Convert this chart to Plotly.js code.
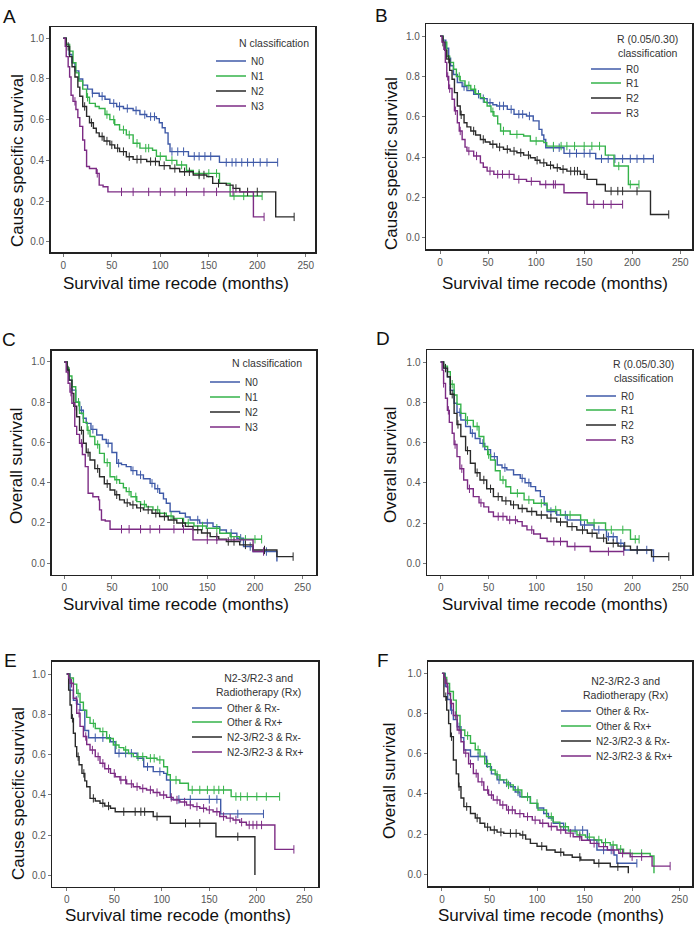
<!DOCTYPE html>
<html><head><meta charset="utf-8">
<script src="https://cdn.plot.ly/plotly-3.0.1.min.js"></script>
<style>html,body{margin:0;padding:0;background:#fff}#chart{width:697px;height:928px}</style>
</head><body><div id="chart"></div>
<script>
// ---------- DATA (time in months, survival proportion) ----------
// Panel A: cause specific survival by N classification
const A_N0_t = [0,3,6,9,12,16,20,25,30,37,43,48,55,62,72,79,86,96,99,102,105,108,110,129,161,221];
const A_N0_s = [1,0.97,0.92,0.88,0.84,0.80,0.77,0.75,0.73,0.715,0.70,0.68,0.665,0.655,0.645,0.625,0.615,0.605,0.585,0.56,0.535,0.48,0.443,0.42,0.39,0.39];
const A_N0_c = [30,40,52,58,66,75,84,90,94,112,118,124,135,140,146,152,168,174,178,184,190,196,203,210,221];
const A_N1_t = [0,3,6.5,10,13,16,20,24,27,33,37,43,48,53,58,65,72,79,92,96,106,117,127,134,161,172,205];
const A_N1_s = [1,0.97,0.937,0.88,0.83,0.79,0.75,0.71,0.68,0.665,0.655,0.625,0.6,0.575,0.55,0.525,0.484,0.46,0.45,0.42,0.40,0.377,0.35,0.336,0.287,0.225,0.225];
const A_N1_c = [25,45,52,62,68,76,85,88,100,112,122,140,150,158,176,186,196,205];
const A_N2_t = [0,3,6.5,9,12,15,17,20,24,27,31,34,37,42,48,53,58,65,72,86,99,110,120,134,148,154,168,175,182,219,238];
const A_N2_s = [1,0.96,0.91,0.86,0.81,0.76,0.715,0.665,0.616,0.585,0.558,0.535,0.517,0.495,0.476,0.46,0.443,0.418,0.405,0.394,0.374,0.36,0.344,0.328,0.32,0.287,0.278,0.262,0.245,0.122,0.122];
const A_N2_c = [5,22,29,40,45,50,56,62,68,76,80,90,95,104,115,125,130,140,145,160,178,190,200,238];
const A_N3_t = [0,2,3,5,6.5,8,10,13,15,17,20,22,24,27,34,37,41,46,196,207];
const A_N3_s = [1,0.96,0.91,0.86,0.81,0.72,0.69,0.65,0.61,0.567,0.50,0.45,0.37,0.36,0.336,0.278,0.27,0.245,0.122,0.122];
const A_N3_c = [12,35,60,72,88,100,115,127,145,158,175,207];

// Panel B: cause specific survival by R (0.05/0.30) classification
const B_R0_t = [0,3,6,9,11,14,18,23,28,35,42,49,55,59,70,77,90,97,103,106,108,110,129,162,222];
const B_R0_s = [1,0.98,0.94,0.89,0.853,0.81,0.77,0.75,0.73,0.712,0.69,0.67,0.66,0.654,0.637,0.613,0.604,0.58,0.538,0.51,0.488,0.447,0.419,0.392,0.392];
const B_R0_c = [25,40,45,52,62,66,74,82,86,93,118,124,135,142,150,156,168,175,182,190,198,205,212,222];
const B_R1_t = [0,3,7,10,14,17,21,26,32,37,42,46,49,53,56,60,63,73,87,94,108,111,172,181,196,207];
const B_R1_s = [1,0.97,0.9,0.87,0.836,0.8,0.778,0.755,0.737,0.715,0.695,0.672,0.654,0.625,0.604,0.565,0.53,0.513,0.505,0.48,0.472,0.455,0.41,0.356,0.265,0.265];
const B_R1_c = [20,30,36,55,66,80,100,118,126,132,140,150,158,166,186,198,207];
const B_R2_t = [0,3,5,7,10,12.5,15,18,21,25,28,32,37,42,47,52,59,66,73,80,87,94,99,104,111,118,125,132,146,153,163,172,219,238];
const B_R2_s = [1,0.97,0.93,0.886,0.83,0.786,0.72,0.654,0.61,0.571,0.55,0.53,0.51,0.488,0.475,0.464,0.45,0.439,0.43,0.422,0.41,0.397,0.385,0.372,0.36,0.348,0.34,0.331,0.315,0.29,0.265,0.232,0.116,0.116];
const B_R2_c = [3,9,22,35,45,55,62,70,77,84,92,101,108,115,122,128,136,140,143,150,178,185,190,205,238];
const B_R3_t = [0,2,4,5.5,7,9,12.5,15,18,20,23,26,28,35,42,45,49,56,77,90,104,129,153,190];
const B_R3_s = [1,0.97,0.935,0.87,0.8,0.74,0.687,0.63,0.571,0.53,0.488,0.45,0.43,0.406,0.372,0.35,0.331,0.315,0.29,0.28,0.265,0.224,0.166,0.166];
const B_R3_c = [8,10,16,21,30,38,52,60,65,72,82,95,110,118,120,160,170,178,190];

// Panel C: overall survival by N classification
const C_N0_t = [0,3,5,8,12,16,20,23,28,34,40,44,50,55,60,65,70,76,83,90,95,100,104,107,111,121,127,132,142,156,163,170,181,188,198,223];
const C_N0_s = [1,0.96,0.91,0.86,0.8,0.76,0.72,0.695,0.665,0.637,0.615,0.596,0.55,0.497,0.49,0.48,0.46,0.439,0.42,0.397,0.37,0.348,0.32,0.298,0.257,0.248,0.23,0.215,0.2,0.182,0.165,0.149,0.124,0.083,0.058,0.008];
const C_N0_c = [18,30,46,57,72,80,92,98,140,150,175,185,195,212];
const C_N1_t = [0,3,5,8,12,16,20,24,27,32,37,42,48,53,58,62,65,70,76,80,86,93,100,107,114,125,136,149,163,174,184,207];
const C_N1_s = [1,0.97,0.93,0.877,0.8,0.745,0.7,0.66,0.63,0.59,0.546,0.5,0.43,0.415,0.397,0.375,0.356,0.33,0.306,0.292,0.28,0.265,0.248,0.235,0.223,0.2,0.185,0.174,0.149,0.132,0.119,0.119];
const C_N1_c = [15,25,35,45,55,68,75,84,98,112,130,145,160,175,190,200,207];
const C_N2_t = [0,3,5,8,10,13,16,20,23,27,32,37,42,48,53,58,63,69,76,83,92,100,109,118,127,135,144,153,162,170,184,198,223,240];
const C_N2_s = [1,0.96,0.91,0.844,0.78,0.728,0.66,0.596,0.55,0.513,0.47,0.43,0.395,0.364,0.34,0.315,0.3,0.29,0.275,0.265,0.248,0.232,0.215,0.2,0.183,0.166,0.15,0.132,0.12,0.108,0.091,0.066,0.033,0.033];
const C_N2_c = [4,11,18,25,35,45,55,66,72,80,88,96,105,115,124,140,150,160,172,178,190,210,240];
const C_N3_t = [0,2,4,6,8,11,13,16,19,22,25,30,36,37,39,43,48,135,198,209];
const C_N3_s = [1,0.95,0.894,0.85,0.795,0.68,0.64,0.596,0.54,0.48,0.348,0.33,0.315,0.265,0.215,0.21,0.169,0.116,0.058,0.058];
const C_N3_c = [7,18,60,68,80,90,100,115,125,150,160,209];

// Panel D: overall survival by R (0.05/0.30) classification
const D_R0_t = [0,3,7,10,14,17,21,26,31,36,41,46,52,59,64,69,76,83,88,94,99,104,108,111,121,132,146,160,173,184,191,222];
const D_R0_s = [1,0.97,0.927,0.86,0.795,0.75,0.712,0.68,0.646,0.62,0.596,0.565,0.53,0.488,0.475,0.464,0.44,0.422,0.4,0.381,0.36,0.331,0.29,0.257,0.24,0.215,0.19,0.166,0.132,0.099,0.066,0.008];
const D_R0_c = [10,20,33,44,56,67,85,92,115,130,150,165,175,180,188,205,215];
const D_R1_t = [0,3,7,10,14,17,21,26,34,40,45,49,52,57,62,68,73,87,97,111,125,146,153,172,198,207];
const D_R1_s = [1,0.98,0.952,0.89,0.836,0.79,0.745,0.71,0.68,0.63,0.58,0.54,0.513,0.46,0.414,0.38,0.348,0.315,0.298,0.265,0.24,0.215,0.2,0.166,0.119,0.119];
const D_R1_c = [12,28,38,50,65,80,92,105,120,135,160,178,190,203,207];
const D_R2_t = [0,3,7,10,14,17,21,26,31,36,41,48,55,64,73,81,90,100,111,121,132,142,153,163,173,185,198,220,238];
const D_R2_s = [1,0.97,0.927,0.84,0.745,0.69,0.63,0.56,0.497,0.45,0.414,0.37,0.331,0.31,0.29,0.272,0.257,0.24,0.224,0.205,0.182,0.165,0.149,0.125,0.099,0.085,0.066,0.033,0.033];
const D_R2_c = [5,12,18,28,38,45,52,60,68,76,85,95,105,115,125,137,148,158,170,180,192,205,238];
const D_R3_t = [0,1.5,3,5,7,9,12,14,17,20,24,28,34,40,45,50,55,69,80,85,90,97,104,111,132,156,191];
const D_R3_s = [1,0.96,0.894,0.82,0.76,0.7,0.646,0.59,0.53,0.47,0.414,0.37,0.331,0.3,0.28,0.255,0.232,0.215,0.207,0.185,0.166,0.145,0.124,0.108,0.083,0.058,0.058];
const D_R3_c = [3,8,15,22,30,42,60,65,72,78,95,118,125,140,175,191];

// Panel E: cause specific survival by N2-3/R2-3 and radiotherapy
const E_ORm_t = [0,3.5,7,11,14,19,23,46,51,74,81,91,102,105,109,110,162,207];
const E_ORm_s = [1,0.92,0.87,0.85,0.82,0.72,0.684,0.664,0.607,0.582,0.54,0.516,0.507,0.474,0.392,0.378,0.306,0.306];
const E_ORm_c = [10,30,38,55,62,68,85,98,118,130,150,158,180,207];
const E_ORp_t = [0,3,7,10.5,14,17.5,21,24.5,30,35,42,49,55,60,65,70,84,95,102,106,109,119,128,173,224];
const E_ORp_s = [1,0.98,0.95,0.904,0.86,0.82,0.785,0.755,0.73,0.714,0.68,0.648,0.635,0.623,0.605,0.59,0.582,0.574,0.54,0.5,0.474,0.458,0.425,0.392,0.392];
const E_ORp_c = [12,28,38,45,52,62,75,80,88,92,98,115,132,140,148,155,160,165,178,183,190,200,210,224];
const E_NRm_t = [0,2,3.5,5,7,9,10.5,13,16,19,21,24.5,30,35,40,46,51,91,109,157,198];
const E_NRm_s = [1,0.92,0.846,0.78,0.706,0.64,0.59,0.55,0.507,0.47,0.441,0.383,0.37,0.359,0.345,0.334,0.317,0.293,0.26,0.193,0.003];
const E_NRm_c = [6,12,18,28,38,44,60,72,78,82,95,125,140,180];
const E_NRp_t = [0,2,3.5,7,10.5,14,17.5,21,24.5,30,35,40,46,51,56,63,70,77,84,91,98,105,112,119,126,133,140,147,154,161,168,175,182,189,219,239];
const E_NRp_s = [1,0.98,0.954,0.88,0.805,0.74,0.69,0.65,0.623,0.59,0.557,0.53,0.507,0.49,0.474,0.455,0.441,0.432,0.425,0.412,0.4,0.388,0.375,0.365,0.35,0.342,0.334,0.326,0.317,0.293,0.285,0.276,0.265,0.251,0.13,0.13];
const E_NRp_c = [5,13,20,27,33,38,44,50,57,62,68,74,80,88,95,102,110,116,124,130,137,144,150,158,165,172,178,184,192,196,200,205,239];

// Panel F: overall survival by N2-3/R2-3 and radiotherapy
const F_ORm_t = [0,3.5,6,9,12,16,20,23,30,47,52,58,65,72,77,82,93,100,107,112,117,128,153,163,181,184,205];
const F_ORm_s = [1,0.934,0.87,0.817,0.77,0.734,0.68,0.619,0.586,0.536,0.5,0.47,0.455,0.436,0.41,0.386,0.353,0.33,0.303,0.28,0.254,0.22,0.171,0.121,0.096,0.055,0.055];
const F_ORm_c = [10,18,38,45,60,68,80,90,140,148,170,178,205];
const F_ORp_t = [0,3,5,8,12,15,19,24,30,35,40,45,51,56,61,68,75,84,93,101,110,117,124,133,142,151,160,168,177,184,191,219,223];
const F_ORp_s = [1,0.98,0.95,0.91,0.867,0.79,0.718,0.69,0.652,0.62,0.586,0.55,0.519,0.495,0.47,0.445,0.42,0.385,0.353,0.32,0.287,0.26,0.237,0.215,0.196,0.185,0.171,0.158,0.146,0.125,0.104,0.091,0.005];
const F_ORp_c = [8,15,27,38,48,58,70,80,90,100,115,130,145,155,165,172,180,188,198,210];
const F_NRm_t = [0,2,5,7,9,12,15,17.5,20,23,30,35,40,45,51,58,65,82,88,93,100,110,119,128,137,146,160,177,196];
const F_NRm_s = [1,0.884,0.817,0.75,0.685,0.569,0.5,0.436,0.38,0.337,0.303,0.28,0.254,0.235,0.221,0.21,0.204,0.196,0.175,0.154,0.14,0.121,0.11,0.096,0.085,0.071,0.055,0.038,0.005];
const F_NRm_c = [4,10,18,26,37,48,55,62,72,78,85,105,125,145,165,185];
const F_NRp_t = [0,2,3.5,6,9,12,16,20,23,28,33,38,44,49,54,61,68,77,86,95,103,112,121,130,138,147,156,165,174,186,198,221,240];
const F_NRp_s = [1,0.98,0.95,0.9,0.85,0.79,0.718,0.66,0.603,0.55,0.502,0.46,0.42,0.395,0.37,0.345,0.32,0.302,0.287,0.27,0.254,0.238,0.221,0.205,0.187,0.17,0.154,0.138,0.121,0.105,0.088,0.041,0.041];
const F_NRp_c = [5,10,14,18,25,30,36,42,48,52,58,64,70,74,82,90,98,106,115,125,135,145,160,170,180,190,200,210,240];

// Labels
const N_NAMES = ['N0','N1','N2','N3'];
const R_NAMES = ['R0','R1','R2','R3'];
const G_NAMES = ['Other &amp; Rx-','Other &amp; Rx+','N2-3/R2-3 &amp; Rx-','N2-3/R2-3 &amp; Rx+'];
const PANEL_LETTERS = ['A','B','C','D','E','F'];
const Y_TITLES = ['Cause specific survival','Cause specific survival','Overall survival','Overall survival','Cause specific survival','Overall survival'];
const X_TITLE = 'Survival time recode (months)';
const LEGEND_TITLES = [['N classification'],['R (0.05/0.30)','classification'],['N classification'],['R (0.05/0.30)','classification'],['N2-3/R2-3 and','Radiotherapy (Rx)'],['N2-3/R2-3 and','Radiotherapy (Rx)']];
const X_TICKS = [0,50,100,150,200,250];
const Y_TICKS = [0,0.2,0.4,0.6,0.8,1.0];

// ---------- STYLE / LAYOUT ----------
const COLORS = ['#3f5aa8','#35b34a','#2a2a2a','#7c2b84'];
const FONT = 'Liberation Sans, Arial, sans-serif';
const W = 697, H = 928;
const px = v => v / W, py = v => 1 - v / H;

const panels = [
  {series:[[A_N0_t,A_N0_s,A_N0_c],[A_N1_t,A_N1_s,A_N1_c],[A_N2_t,A_N2_s,A_N2_c],[A_N3_t,A_N3_s,A_N3_c]], names:N_NAMES,
   box:[50.7,315,27.3,252.3], xr:[-13,259.5], yr:[-0.052,1.054],
   letter:[9,16], ytitle:[17,161], xtitle:[176,283], ltitle:[274,42], itemX:251, itemY:[61,76,91,106]},
  {series:[[B_R0_t,B_R0_s,B_R0_c],[B_R1_t,B_R1_s,B_R1_c],[B_R2_t,B_R2_s,B_R2_c],[B_R3_t,B_R3_s,B_R3_c]], names:R_NAMES,
   box:[426.3,692,24,249], xr:[-14.3,262.2], yr:[-0.055,1.06],
   letter:[381,15], ytitle:[391,164], xtitle:[555,283], ltitle:[647,38], itemX:626, itemY:[69,83,98,113]},
  {series:[[C_N0_t,C_N0_s,C_N0_c],[C_N1_t,C_N1_s,C_N1_c],[C_N2_t,C_N2_s,C_N2_c],[C_N3_t,C_N3_s,C_N3_c]], names:N_NAMES,
   box:[51.7,316,350.7,574.5], xr:[-13.2,264], yr:[-0.056,1.056],
   letter:[9,339], ytitle:[16,466], xtitle:[176,604], ltitle:[267,362], itemX:245, itemY:[382,397,412,427]},
  {series:[[D_R0_t,D_R0_s,D_R0_c],[D_R1_t,D_R1_s,D_R1_c],[D_R2_t,D_R2_s,D_R2_c],[D_R3_t,D_R3_s,D_R3_c]], names:R_NAMES,
   box:[427,692,350,574.5], xr:[-14.3,262.2], yr:[-0.056,1.06],
   letter:[383,338], ytitle:[390,465], xtitle:[555,604], ltitle:[643,363], itemX:621, itemY:[396,410,425,440]},
  {series:[[E_ORm_t,E_ORm_s,E_ORm_c],[E_ORp_t,E_ORp_s,E_ORp_c],[E_NRm_t,E_NRm_s,E_NRm_c],[E_NRp_t,E_NRp_s,E_NRp_c]], names:G_NAMES,
   box:[52.3,318.3,661.7,886.7], xr:[-15.2,264.7], yr:[-0.055,1.061],
   letter:[10,660], ytitle:[18,794], xtitle:[178,915], ltitle:[258,677], itemX:227, itemY:[708,722,737,752]},
  {series:[[F_ORm_t,F_ORm_s,F_ORm_c],[F_ORp_t,F_ORp_s,F_ORp_c],[F_NRm_t,F_NRm_s,F_NRm_c],[F_NRp_t,F_NRp_s,F_NRp_c]], names:G_NAMES,
   box:[428,692,661.7,886], xr:[-14.7,263], yr:[-0.058,1.058],
   letter:[383,660], ytitle:[389,781], xtitle:[551,915], ltitle:[625,680], itemX:596, itemY:[711,726,741,756]}
];

function stepAt(t, s, x) {
  let v = s[0];
  for (let i = 0; i < t.length; i++) { if (t[i] <= x) v = s[i]; }
  return v;
}

const traces = [];
const layout = {
  width: W, height: H, margin: {l:0,r:0,t:0,b:0},
  paper_bgcolor: '#fff', plot_bgcolor: '#fff',
  showlegend: true, annotations: [], font: {family: FONT}
};

let legN = 0;
panels.forEach((p, i) => {
  const k = i + 1;
  const xa = k === 1 ? 'x' : 'x' + k, ya = k === 1 ? 'y' : 'y' + k;
  const [x0, x1, y0, y1] = p.box;
  layout['xaxis' + (k === 1 ? '' : k)] = {
    domain: [px(x0), px(x1)], range: p.xr, anchor: ya,
    tickmode: 'array', tickvals: X_TICKS, ticks: 'outside', ticklen: 3, tickwidth: 1, tickcolor: '#777',
    tickfont: {size: 10, color: '#555', family: FONT},
    showline: true, mirror: true, linecolor: '#222', linewidth: 1.5,
    showgrid: false, zeroline: false, fixedrange: true
  };
  layout['yaxis' + (k === 1 ? '' : k)] = {
    domain: [py(y1), py(y0)], range: p.yr, anchor: xa,
    tickmode: 'array', tickvals: Y_TICKS, tickformat: '.1f', ticks: 'outside', ticklen: 3, tickwidth: 1, tickcolor: '#777',
    tickfont: {size: 10, color: '#555', family: FONT},
    showline: true, mirror: true, linecolor: '#222', linewidth: 1.5,
    showgrid: false, zeroline: false, fixedrange: true
  };
  p.series.forEach((sr, j) => {
    legN++;
    const lk = legN === 1 ? 'legend' : 'legend' + legN;
    const [t, s, c] = sr;
    traces.push({
      x: t, y: s, mode: 'lines', type: 'scatter', xaxis: xa, yaxis: ya,
      name: p.names[j], legend: lk, showlegend: true,
      line: {shape: 'hv', color: COLORS[j], width: 1.4}, hoverinfo: 'skip'
    });
    traces.push({
      x: c, y: c.map(v => stepAt(t, s, v)), mode: 'markers', type: 'scatter', xaxis: xa, yaxis: ya,
      showlegend: false, hoverinfo: 'skip',
      marker: {symbol: 'line-ns', size: 6, color: COLORS[j], line: {width: 1, color: COLORS[j]}}
    });
    layout[lk] = {
      x: px(p.itemX - 40), y: py(p.itemY[j]), xanchor: 'left', yanchor: 'middle',
      bgcolor: 'rgba(0,0,0,0)', borderwidth: 0, itemwidth: 30,
      font: {size: 10, color: '#333', family: FONT}
    };
  });
  layout.annotations.push({text: PANEL_LETTERS[i], xref: 'paper', yref: 'paper', x: px(p.letter[0]), y: py(p.letter[1]),
    xanchor: 'center', yanchor: 'middle', showarrow: false, font: {size: 19, color: '#111', family: FONT}});
  layout.annotations.push({text: Y_TITLES[i], xref: 'paper', yref: 'paper', x: px(p.ytitle[0]), y: py(p.ytitle[1]),
    xanchor: 'center', yanchor: 'middle', textangle: -90, showarrow: false, font: {size: 17, color: '#111', family: FONT}});
  layout.annotations.push({text: X_TITLE, xref: 'paper', yref: 'paper', x: px(p.xtitle[0]), y: py(p.xtitle[1]),
    xanchor: 'center', yanchor: 'middle', showarrow: false, font: {size: 17, color: '#111', family: FONT}});
  layout.annotations.push({text: LEGEND_TITLES[i].join('<br>'), xref: 'paper', yref: 'paper', x: px(p.ltitle[0]), y: py(p.ltitle[1]),
    xanchor: 'center', yanchor: 'top', yshift: 7, showarrow: false, align: 'center',
    font: {size: 10.5, color: '#333', family: FONT}});
});

Plotly.newPlot('chart', traces, layout, {staticPlot: true, displayModeBar: false});
</script></body></html>
